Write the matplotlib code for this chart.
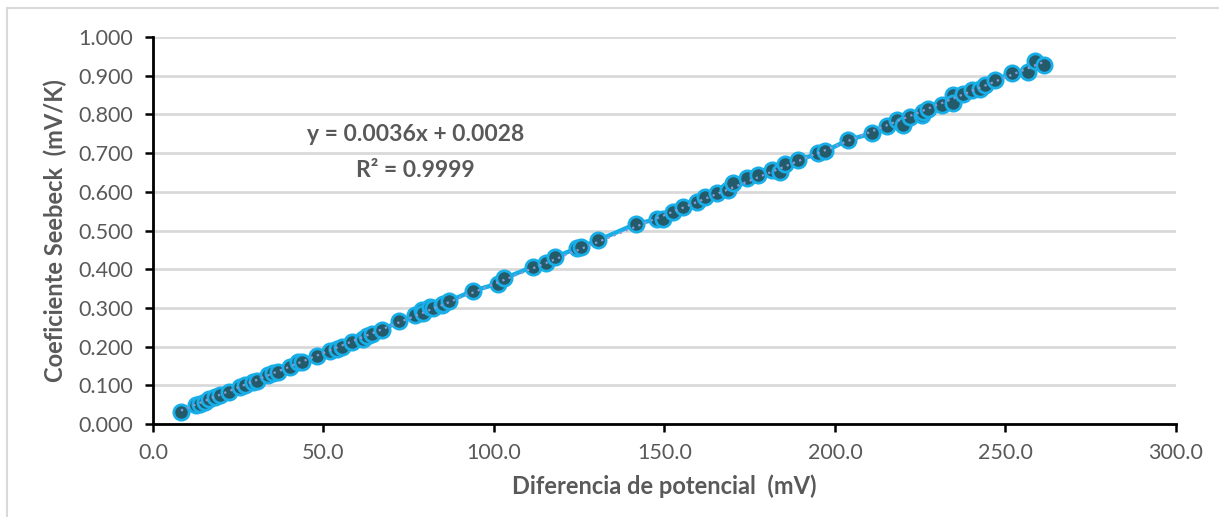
import matplotlib.pyplot as plt
from matplotlib.lines import Line2D
import numpy as np

# %% data (mV, mV/K)
dif_potencial = [8.2, 12.6, 13.8, 15.2, 16.5, 18.2, 19.6, 22.4, 25.5, 27.0,
                 29.4, 30.6, 33.8, 35.3, 36.8, 40.2, 42.6, 43.6, 48.0, 51.9,
                 53.9, 55.5, 58.3, 61.7, 62.7, 64.1, 67.1, 72.2, 76.8, 78.8,
                 79.3, 81.2, 82.2, 84.7, 85.1, 86.9, 93.8, 101.3, 102.9, 111.3,
                 115.4, 117.9, 124.2, 125.6, 130.6, 141.6, 147.7, 149.6, 152.6,
                 155.5, 159.4, 161.9, 165.3, 168.7, 170.2, 174.1, 177.5, 181.4,
                 183.9, 185.3, 189.2, 195.1, 197.1, 203.9, 210.8, 215.2, 218.1,
                 220.0, 222.0, 225.4, 225.9, 227.4, 231.3, 234.7, 234.7, 237.6,
                 240.1, 242.5, 244.0, 246.9, 251.8, 256.7, 258.7, 261.3]
seebeck = [0.032, 0.049, 0.052, 0.058, 0.064, 0.069, 0.075, 0.083, 0.095, 0.100,
           0.109, 0.111, 0.127, 0.131, 0.135, 0.148, 0.159, 0.160, 0.175, 0.188,
           0.193, 0.200, 0.212, 0.219, 0.228, 0.232, 0.243, 0.265, 0.282, 0.295,
           0.288, 0.302, 0.299, 0.307, 0.309, 0.318, 0.344, 0.363, 0.376, 0.406,
           0.415, 0.431, 0.454, 0.458, 0.475, 0.517, 0.529, 0.531, 0.549,
           0.562, 0.574, 0.586, 0.596, 0.605, 0.622, 0.635, 0.643, 0.656,
           0.652, 0.671, 0.682, 0.699, 0.705, 0.734, 0.751, 0.770, 0.786,
           0.773, 0.794, 0.798, 0.807, 0.813, 0.824, 0.850, 0.829, 0.854,
           0.863, 0.865, 0.876, 0.889, 0.906, 0.910, 0.939, 0.928]

gray = "#595959"
font = "Lato"

# %% plot
fig = plt.figure(figsize=(12.19, 5.17), dpi=100)
ax = fig.add_axes([0.1255, 0.1799, 0.8392, 0.7485])

ax.plot(dif_potencial, seebeck, color="#18AEE8", lw=3.2, marker="o",
        ms=11, mfc="#235B6B", mec="#18AEE8", mew=2.0, zorder=3)

# linear trendline
coef = np.polyfit(dif_potencial, seebeck, 1)
xt = np.array([min(dif_potencial), max(dif_potencial)])
ax.plot(xt, np.polyval(coef, xt), color="#8C9BD6", lw=1.6, ls=(0, (1, 2)),
        zorder=4)

ax.text(77, 0.747, "y = 0.0036x + 0.0028", ha="center", va="center",
        fontsize=16.5, fontweight="bold", color=gray, fontname=font)
ax.text(77, 0.656, "R² = 0.9999", ha="center", va="center",
        fontsize=16.5, fontweight="bold", color=gray, fontname=font)

ax.set_xlim(0, 300)
ax.set_ylim(0, 1.0)
ax.set_xticks(np.arange(0, 301, 50))
ax.set_yticks(np.arange(0, 1.01, 0.1))
ax.set_xticklabels([f"{v:.1f}" for v in np.arange(0, 301, 50)])
ax.set_yticklabels([f"{v:.3f}" for v in np.arange(0, 1.01, 0.1)])
ax.tick_params(labelsize=15.5, labelcolor=gray, width=1.8, length=6,
               direction="out", pad=8)
for lbl in ax.get_xticklabels() + ax.get_yticklabels():
    lbl.set_fontname(font)

ax.grid(axis="y", color="#D9D9D9", lw=2)
ax.set_axisbelow(True)
for s in ["top", "right"]:
    ax.spines[s].set_visible(False)
for s in ["left", "bottom"]:
    ax.spines[s].set_linewidth(2)
    ax.spines[s].set_color("black")

ax.set_xlabel("Diferencia de potencial  (mV)", fontsize=17, fontweight="bold",
              color=gray, fontname=font, labelpad=8)
ax.set_ylabel("Coeficiente Seebeck  (mV/K)", fontsize=17, fontweight="bold",
              color=gray, fontname=font, labelpad=8)

# light frame of the chart area
fig.add_artist(Line2D([7 / 1219, 1], [1 - 8 / 517, 1 - 8 / 517],
                      transform=fig.transFigure, color="#D9D9D9", lw=1.5))
fig.add_artist(Line2D([7 / 1219, 7 / 1219], [0, 1 - 8 / 517],
                      transform=fig.transFigure, color="#D9D9D9", lw=1.5))

fig.savefig("out.png", dpi=100)
plt.close()
